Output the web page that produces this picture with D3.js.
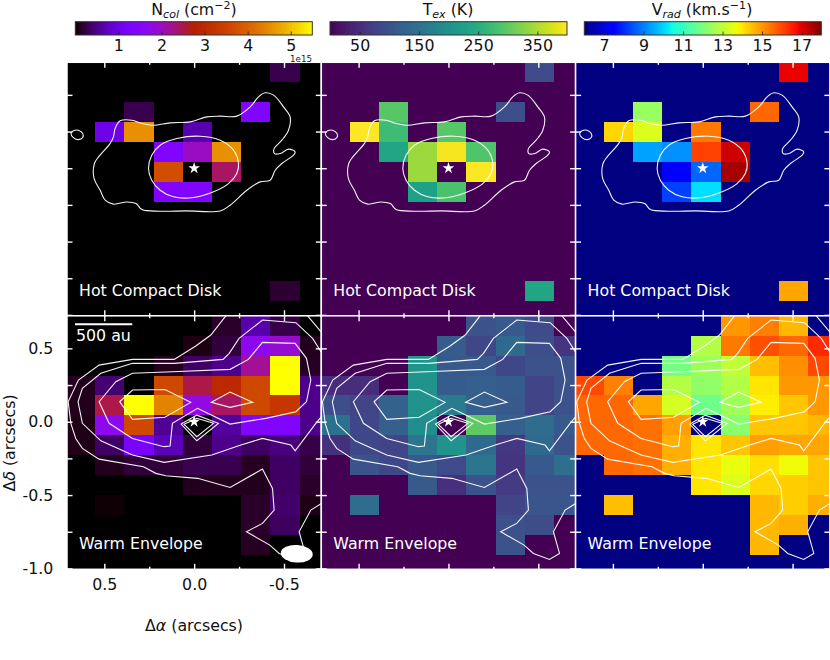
<!DOCTYPE html>
<html>
<head>
<meta charset="utf-8">
<script src="https://cdn.jsdelivr.net/npm/d3@7"></script>
<style>
    html, body { margin: 0; padding: 0; background: #fff; }
    svg { display: block; }
    text { font-family: "DejaVu Sans", sans-serif; }
</style>
</head>
<body>
<div id="chart"></div>
<script>
// Cell centres of the map grid, in arcsec
const raCentres = [0.6315, 0.469, 0.3065, 0.144, -0.0185, -0.181, -0.3435, -0.506, -0.6685];
const decCentres = [0.653, 0.518, 0.382, 0.2465, 0.111, -0.0245, -0.16, -0.2955, -0.431, -0.5665, -0.702, -0.8375, -0.973];
const cellWidth = 0.1625;
const cellHeight = 0.1355;

// Maps, rows top to bottom, null = no fit (lowest colour)
const ncolHot = [
    [null, null, null, null, null, null, null, 0.27, null],
    [null, null, null, null, null, null, null, null, null],
    [null, null, 0.27, null, null, null, 1.4, null, null],
    [null, 1.0, 4.55, null, 0.66, null, null, null, null],
    [null, null, null, 1.4, 2.0, 4.55, null, null, null],
    [null, null, null, 3.7, null, 2.4, null, null, null],
    [null, null, null, 1.4, 1.4, null, null, null, null],
    [null, null, null, null, null, null, null, null, null],
    [null, null, null, null, null, null, null, null, null],
    [null, null, null, null, null, null, null, null, null],
    [null, null, null, null, null, null, null, null, null],
    [null, null, null, null, null, null, null, 0.17, null],
    [null, null, null, null, null, null, null, null, null]
];
const texHot = [
    [null, null, null, null, null, null, null, 90, null],
    [null, null, null, null, null, null, null, null, null],
    [null, null, 295, null, null, null, 95, null, null],
    [null, 398, 275, null, 295, null, null, null, null],
    [null, null, 235, 340, 395, 290, null, null, null],
    [null, null, null, 340, null, 398, null, null, null],
    [null, null, null, 228, 285, null, null, null, null],
    [null, null, null, null, null, null, null, null, null],
    [null, null, null, null, null, null, null, null, null],
    [null, null, null, null, null, null, null, null, null],
    [null, null, null, null, null, null, null, null, null],
    [null, null, null, null, null, null, null, 235, null],
    [null, null, null, null, null, null, null, null, null]
];
const vradHot = [
    [null, null, null, null, null, null, null, 16.9, null],
    [null, null, null, null, null, null, null, null, null],
    [null, null, 12.4, null, null, null, 15.6, null, null],
    [null, 14.2, 13.4, null, 15.4, null, null, null, null],
    [null, null, 9.4, 9.2, 16.1, 17.2, null, null, null],
    [null, null, null, 7.3, 8.7, 17.6, null, null, null],
    [null, null, null, 8.25, 10.1, null, null, null, null],
    [null, null, null, null, null, null, null, null, null],
    [null, null, null, null, null, null, null, null, null],
    [null, null, null, null, null, null, null, null, null],
    [null, null, null, null, null, null, null, null, null],
    [null, null, null, null, null, null, null, 14.8, null],
    [null, null, null, null, null, null, null, null, null]
];
const ncolWarm = [
    [null, null, null, null, null, 0.15, 0.65, 0.25, null],
    [null, null, null, null, 0.07, 0.22, 1.7, 1.9, 0.1],
    [null, null, null, 0.1, 0.35, 0.5, 2.2, 5.5, 0.12],
    [0.1, 0.4, null, 3.6, 2.5, 3.0, 3.6, 5.5, 0.5],
    [0.1, 2.5, 5.5, 4.4, 1.8, 2.4, 3.6, 3.3, 0.5],
    [0.08, 1.7, 3.6, 0.55, null, 0.6, 1.4, 1.4, 0.5],
    [0.08, 0.35, 1.25, 0.7, 0.2, 0.5, 0.35, 0.45, 0.25],
    [null, 0.1, 0.2, 0.2, 0.28, 0.28, 0.12, 0.35, 0.2],
    [null, null, null, null, 0.1, 0.1, 0.1, 0.35, 0.15],
    [null, 0.02, null, null, null, null, 0.15, 0.38, 0.08],
    [null, null, null, null, null, null, 0.15, 0.33, null],
    [null, null, null, null, null, null, 0.12, null, null],
    [null, null, null, null, null, null, null, null, null]
];
const texWarm = [
    [null, null, null, null, null, 100, 110, 90, null],
    [null, null, null, null, 115, 85, 135, 95, 60],
    [null, null, null, 210, 110, 110, 85, 100, 100],
    [50, 50, null, 205, 115, 120, 115, 80, 100],
    [95, 80, 125, 205, 165, 120, 110, 80, 100],
    [150, 85, 120, 195, null, 300, 120, 140, 110],
    [55, 85, 80, 155, 205, 135, 65, 135, 100],
    [null, 100, 85, 110, 90, 155, 62, 110, 145],
    [null, null, null, 110, 55, 100, 70, 100, 100],
    [null, 140, null, null, null, null, 80, 105, 105],
    [null, null, null, null, null, null, 97, 93, null],
    [null, null, null, null, null, null, 100, null, null],
    [null, null, null, null, null, null, null, null, null]
];
const vradWarm = [
    [null, null, null, null, null, 15, 15.3, 14.6, null],
    [null, null, null, null, 12.8, 15.4, 15.9, 15.6, 16.4],
    [null, null, null, 11.9, 12.5, 13, 14.5, 15.1, 16],
    [16, 15.3, null, 12.8, 12.3, 12.8, 14, 15, 15],
    [15.6, 15.6, 14.8, 13.3, 11.8, 12.5, 13.9, 14.4, 15],
    [15.6, 15.6, 15.5, 14.9, null, 12.2, 14.4, 14.4, 14.6],
    [15.6, 15.6, 15.5, 14.7, 14, 14.4, 14.9, 14.8, 14.8],
    [null, 15.6, 15.5, 14.7, 14, 13.6, 14.1, 13.7, 14.4],
    [null, null, null, null, 14, 13.4, 14.2, 14.3, 14.4],
    [null, 14.5, null, null, null, null, 14.6, 14.3, 14.7],
    [null, null, null, null, null, null, 14.6, 14.7, null],
    [null, null, null, null, null, null, 14.6, null, null],
    [null, null, null, null, null, null, null, null, null]
];

// Contours in arcsec, [ra offset, dec offset]
const hotContours = [
    [[0.449,0.214],[0.468,0.168],[0.532,0.077],[0.555,0.032],[0.557,-0.070],[0.523,-0.150],[0.495,-0.218],[0.449,-0.245],[0.375,-0.230],[0.323,-0.241],[0.291,-0.282],[0.189,-0.293],[0.041,-0.291],[-0.145,-0.291],[-0.200,-0.252],[-0.293,-0.150],[-0.367,-0.093],[-0.423,-0.082],[-0.451,-0.014],[-0.488,0.032],[-0.553,0.089],[-0.562,0.111],[-0.525,0.130],[-0.479,0.100],[-0.447,0.100],[-0.445,0.134],[-0.488,0.191],[-0.525,0.259],[-0.534,0.350],[-0.497,0.418],[-0.442,0.498],[-0.395,0.514],[-0.358,0.486],[-0.312,0.418],[-0.237,0.355],[-0.145,0.355],[-0.071,0.350],[0.022,0.316],[0.134,0.309],[0.226,0.293],[0.291,0.305],[0.347,0.327],[0.412,0.323],[0.440,0.270]],
    [[0.685,0.236],[0.672,0.255],[0.644,0.259],[0.620,0.236],[0.620,0.209],[0.644,0.195],[0.672,0.209]],
    [[0.254,-0.002],[0.236,0.089],[0.189,0.157],[0.096,0.202],[-0.033,0.218],[-0.145,0.191],[-0.219,0.123],[-0.247,0.032],[-0.237,-0.036],[-0.191,-0.105],[-0.108,-0.161],[0.004,-0.200],[0.115,-0.195],[0.189,-0.150],[0.236,-0.082]]
];
const warmOpenContours = [
    [[-0.195,0.75],[-0.173,0.716],[-0.093,0.591],[-0.009,0.516],[0.111,0.425],[0.343,0.425],[0.529,0.386],[0.644,0.284],[0.701,0.136],[0.686,-0.011],[0.659,-0.114],[0.622,-0.182],[0.529,-0.255],[0.282,-0.307],[0.213,-0.352],[0.158,-0.368],[-0.019,-0.386],[-0.200,-0.448],[-0.380,-0.323],[-0.436,-0.455],[-0.445,-0.602],[-0.380,-0.693],[-0.291,-0.750],[-0.421,-0.841],[-0.473,-0.898],[-0.562,-0.939],[-0.618,-0.898],[-0.584,-0.750],[-0.649,-0.602],[-0.724,-0.545]],
    [[-0.612,0.75],[-0.635,0.716],[-0.705,0.614],[-0.724,0.602]],
    [[-0.724,0.443],[-0.659,0.568],[-0.566,0.675],[-0.380,0.693],[-0.250,0.568],[-0.195,0.466],[-0.161,0.425],[0.111,0.398],[0.343,0.398],[0.519,0.330],[0.622,0.227],[0.646,0.136],[0.622,-0.011],[0.519,-0.130],[0.343,-0.227],[0.167,-0.277],[-0.098,-0.227],[-0.260,-0.159],[-0.380,-0.114],[-0.538,-0.159],[-0.562,-0.198],[-0.677,-0.011],[-0.724,0.057]]
];
const warmClosedContours = [
    [[-0.380,0.541],[-0.562,0.534],[-0.625,0.432],[-0.649,0.284],[-0.625,0.136],[-0.566,0.068],[-0.399,0.023],[-0.200,-0.016],[-0.019,0.091],[0.121,-0.011],[0.134,-0.166],[0.167,-0.170],[0.343,-0.114],[0.473,-0.011],[0.529,0.136],[0.436,0.273],[0.343,0.330],[0.121,0.341],[-0.200,0.357],[-0.302,0.425]],
    [[0.414,0.136],[0.343,0.216],[0.163,0.220],[0.019,0.132],[0.163,0.030],[0.343,0.016]],
    [[-0.096,0.132],[-0.200,0.202],[-0.325,0.132],[-0.200,0.098]],
    [[0.072,-0.016],[-0.015,0.045],[-0.135,-0.011],[-0.015,-0.130]],
    [[0.056,-0.018],[-0.015,0.023],[-0.108,-0.011],[-0.015,-0.102]]
];

const majorXTicks = [0.5, 0, -0.5];
const minorXTicks = [0.25, -0.25];
const yTicks = [0.5, 0.25, 0, -0.25, -0.5, -0.75, -1];
const yLabelTicks = [0.5, 0, -0.5, -1];
const ncolTicks = [1, 2, 3, 4, 5];
const texTicks = [50, 150, 250, 350];
const vradTicks = [7, 9, 11, 13, 15, 17];
const rowLabels = ['Hot Compact Disk', 'Warm Envelope'];

// Layout
const fullWidth = 830, fullHeight = 660;
const panelW = 254.3, panelH = 253.5;
const panelX = [67, 321.3, 575.6];
const panelY = [62.3, 315.8];
const fontSize = 15.8;

// matplotlib gnuplot and jet colormaps
function gnuplot(t) {
    const b = Math.max(0, Math.sin(2 * Math.PI * t));
    return d3.rgb(255 * Math.sqrt(t), 255 * t * t * t, 255 * b) + '';
}
const jetR = d3.scaleLinear().domain([0, 0.35, 0.66, 0.89, 1]).range([0, 0, 1, 1, 0.5]);
const jetG = d3.scaleLinear().domain([0, 0.125, 0.375, 0.64, 0.91, 1]).range([0, 0, 1, 1, 0, 0]);
const jetB = d3.scaleLinear().domain([0, 0.11, 0.34, 0.65, 1]).range([0.5, 1, 1, 0, 0]);
function jet(t) {
    return d3.rgb(255 * jetR(t), 255 * jetG(t), 255 * jetB(t)) + '';
}

const columns = [
    { color: d3.scaleSequential([0, 5.5], gnuplot), ticks: ncolTicks, cbX: [75.3, 312.3], maps: [ncolHot, ncolWarm] },
    { color: d3.scaleSequential([0, 400], d3.interpolateViridis), ticks: texTicks, cbX: [330, 567], maps: [texHot, texWarm] },
    { color: d3.scaleSequential([6, 18], jet), ticks: vradTicks, cbX: [584.3, 821.3], maps: [vradHot, vradWarm] }
];

const x = d3.scaleLinear().domain([0.7075, -0.7075]).range([0, panelW]);
const y = d3.scaleLinear().domain([0.722, -1.006]).range([0, panelH]);

const svg = d3.select('#chart').append('svg')
    .attr('width', fullWidth)
    .attr('height', fullHeight);

svg.append('rect').attr('width', fullWidth).attr('height', fullHeight).attr('fill', '#fff');

const defs = svg.append('defs');
defs.append('clipPath').attr('id', 'panel-clip')
    .append('rect').attr('width', panelW).attr('height', panelH);

const lineOpen = d3.line().x(d => x(d[0])).y(d => y(d[1]));
const lineClosed = d3.line().x(d => x(d[0])).y(d => y(d[1])).curve(d3.curveLinearClosed);
const lineSmooth = d3.line().x(d => x(d[0])).y(d => y(d[1])).curve(d3.curveCatmullRomClosed);

// White inward ticks on all four sides of a panel
function addTicks(g) {
    const sides = [
        [d3.axisBottom(x), `translate(0,${panelH})`, majorXTicks, 5.5],
        [d3.axisBottom(x), `translate(0,${panelH})`, minorXTicks, 2.5],
        [d3.axisTop(x), 'translate(0,0)', majorXTicks, 5.5],
        [d3.axisTop(x), 'translate(0,0)', minorXTicks, 2.5],
        [d3.axisLeft(y), 'translate(0,0)', yTicks, 5.5],
        [d3.axisRight(y), `translate(${panelW},0)`, yTicks, 5.5]
    ];
    sides.forEach(([axis, tr, vals, len]) => {
        const a = g.append('g').attr('transform', tr)
            .call(axis.tickValues(vals).tickSize(-len).tickFormat(''));
        a.select('.domain').remove();
        a.selectAll('line').attr('stroke', '#fff').attr('stroke-width', 1.4);
    });
}

columns.forEach((col, c) => {
    // Colourbar
    const cb = svg.append('g').attr('transform', 'translate(0,21.7)');
    const cbScale = d3.scaleLinear().domain(col.color.domain()).range(col.cbX);
    const gradId = 'cb-grad-' + c;
    defs.append('linearGradient').attr('id', gradId)
        .selectAll('stop')
        .data(d3.range(0, 1.0001, 1 / 128))
        .enter().append('stop')
        .attr('offset', d => d)
        .attr('stop-color', d => col.color(col.color.domain()[0] + d * (col.color.domain()[1] - col.color.domain()[0])));
    cb.append('rect')
        .attr('x', col.cbX[0]).attr('width', col.cbX[1] - col.cbX[0])
        .attr('height', 13.3)
        .attr('fill', `url(#${gradId})`)
        .attr('stroke', '#333').attr('stroke-width', 1);
    const cbAxis = cb.append('g').attr('transform', 'translate(0,13.3)')
        .call(d3.axisBottom(cbScale).tickValues(col.ticks).tickSize(-3.5).tickPadding(4.5).tickFormat(d3.format('d')));
    cbAxis.select('.domain').remove();
    cbAxis.selectAll('line').attr('stroke', '#222').attr('stroke-width', 0.8);
    cbAxis.selectAll('text').attr('font-size', fontSize).attr('fill', '#111');

    col.maps.forEach((map, r) => {
        const g = svg.append('g').attr('transform', `translate(${panelX[c]},${panelY[r]})`);
        const inner = g.append('g').attr('clip-path', 'url(#panel-clip)');
        const low = col.color(col.color.domain()[0]);

        inner.append('rect').attr('width', panelW).attr('height', panelH).attr('fill', low);

        // Map cells
        const cells = map.flatMap((row, i) => row.map((v, j) => ({ i, j, v }))).filter(d => d.v !== null);
        inner.append('g').selectAll('rect')
            .data(cells)
            .enter().append('rect')
            .attr('x', d => x(raCentres[d.j] + cellWidth / 2))
            .attr('y', d => y(decCentres[d.i] + cellHeight / 2))
            .attr('width', x(0) - x(cellWidth))
            .attr('height', y(0) - y(cellHeight))
            .attr('fill', d => col.color(d.v))
            .attr('shape-rendering', 'crispEdges');

        // Contours
        const contour = inner.append('g').attr('fill', 'none').attr('stroke', '#fff').attr('stroke-opacity', 0.95).attr('stroke-width', 1.1);
        if (r === 0) {
            hotContours.forEach(p => contour.append('path').attr('d', lineSmooth(p)));
        } else {
            warmOpenContours.forEach(p => contour.append('path').attr('d', lineOpen(p)));
            warmClosedContours.forEach(p => contour.append('path').attr('d', lineClosed(p)));
        }

        // Star on the source
        inner.append('path')
            .attr('d', d3.symbol().type(d3.symbolStar).size(42)())
            .attr('transform', `translate(${x(0)},${y(0)})`)
            .attr('fill', '#fff');

        inner.append('text')
            .attr('x', 12).attr('y', 233.5)
            .attr('font-size', fontSize).attr('fill', '#fff')
            .text(rowLabels[r]);

        // Spines and ticks
        g.append('rect').attr('width', panelW).attr('height', panelH)
            .attr('fill', 'none').attr('stroke', '#fff').attr('stroke-width', 1.5);
        addTicks(g);

        if (c === 0 && r === 1) {
            // Scale bar and beam
            g.append('line').attr('x1', 8).attr('x2', 65.3).attr('y1', 8.5).attr('y2', 8.5)
                .attr('stroke', '#fff').attr('stroke-width', 2);
            g.append('text').attr('x', 9).attr('y', 24.9).attr('font-size', fontSize)
                .attr('fill', '#fff').text('500 au');
            g.append('ellipse')
                .attr('rx', 16).attr('ry', 8.8)
                .attr('transform', `translate(${x(-0.571)},${y(-0.9)}) rotate(4)`)
                .attr('fill', '#fff');

            // Tick labels only on the lower left panel
            const ax = g.append('g').attr('transform', `translate(0,${panelH})`)
                .call(d3.axisBottom(x).tickValues(majorXTicks).tickSize(0).tickPadding(9.5).tickFormat(d => d.toFixed(1)));
            ax.select('.domain').remove();
            ax.selectAll('text').attr('font-size', fontSize).attr('fill', '#111');
            const ay = g.append('g')
                .call(d3.axisLeft(y).tickValues(yLabelTicks).tickSize(0).tickPadding(13.7).tickFormat(d => d.toFixed(1)));
            ay.select('.domain').remove();
            ay.selectAll('text').attr('font-size', fontSize).attr('fill', '#111');
        }
    });
});

// Colourbar titles
function title(cx, parts) {
    const t = svg.append('text').attr('x', cx).attr('y', 15).attr('text-anchor', 'middle')
        .attr('font-size', fontSize).attr('fill', '#111');
    parts.forEach(p => {
        const s = t.append('tspan').text(p.s);
        if (p.sub) s.attr('baseline-shift', '-3').attr('font-size', fontSize * 0.7).attr('font-style', 'italic');
        if (p.sup) s.attr('baseline-shift', '6').attr('font-size', fontSize * 0.7);
    });
}
title(194, [{ s: 'N' }, { s: 'col', sub: true }, { s: ' (cm' }, { s: '−2', sup: true }, { s: ')' }]);
title(448, [{ s: 'T' }, { s: 'ex', sub: true }, { s: ' (K)' }]);
title(702, [{ s: 'V' }, { s: 'rad', sub: true }, { s: ' (km.s' }, { s: '−1', sup: true }, { s: ')' }]);

// Offset text of the first colourbar
svg.append('text').attr('x', 312).attr('y', 61.5).attr('text-anchor', 'end')
    .attr('font-size', 8.7).attr('fill', '#222').text('1e15');

// Axis titles
const xTitle = svg.append('text').attr('x', 194).attr('y', 631).attr('text-anchor', 'middle')
    .attr('font-size', fontSize).attr('fill', '#111');
xTitle.append('tspan').text('Δ');
xTitle.append('tspan').attr('font-style', 'italic').text('α');
xTitle.append('tspan').text(' (arcsecs)');

const yTitle = svg.append('text').attr('transform', 'translate(14.8,443) rotate(-90)').attr('text-anchor', 'middle')
    .attr('font-size', fontSize).attr('fill', '#111');
yTitle.append('tspan').text('Δ');
yTitle.append('tspan').attr('font-style', 'italic').text('δ');
yTitle.append('tspan').text(' (arcsecs)');
</script>
</body>
</html>
